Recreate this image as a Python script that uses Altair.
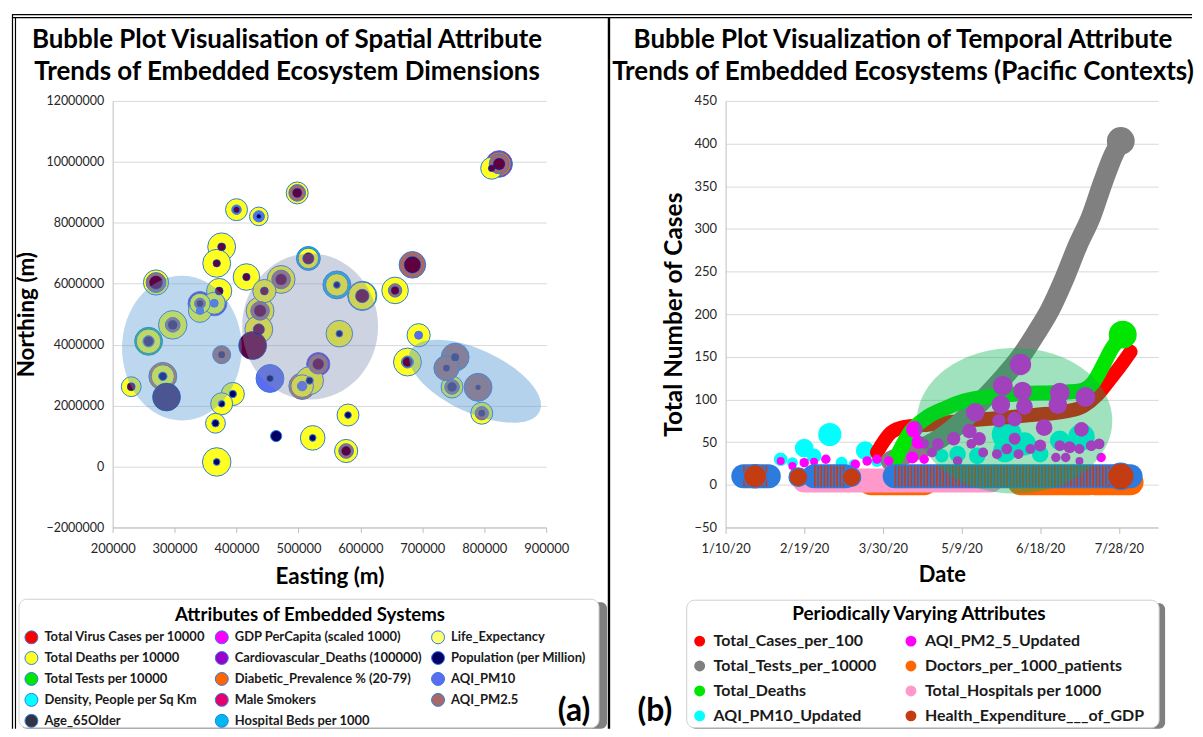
import altair as alt
import pandas as pd

FONT = "Lato"
STROKE_BLUE = "#2e7be0"

# ---------------- Panel (a): spatial attributes ----------------
SITE_E = [824000, 812000, 498000, 400000, 436000, 376000, 368000, 416000, 270000, 472000,
          516000, 562000, 603000, 656000, 684000, 372000, 445000, 341000, 364000, 341000,
          438000, 297000, 436000, 566000, 694000, 258000, 426000, 376000, 532000, 676000,
          753000, 739000, 281000, 454000, 518000, 506000, 748000, 790000, 230000, 287000,
          394000, 376000, 796000, 580000, 366000, 464000, 523000, 577000, 368000]
SITE_N = [9930000, 9790000, 8980000, 8430000, 8210000, 7210000, 6670000, 6220000, 6040000, 6140000,
          6830000, 5960000, 5600000, 5780000, 6620000, 5760000, 5760000, 5350000, 5360000, 5110000,
          5110000, 4650000, 4500000, 4360000, 4310000, 4110000, 3970000, 3670000, 3360000, 3430000,
          3590000, 3230000, 2960000, 2890000, 2820000, 2640000, 2610000, 2600000, 2620000, 2280000,
          2380000, 2060000, 1750000, 1690000, 1420000, 1000000, 940000, 510000, 150000]
# bubble magnitudes per attribute (0 = not drawn)
TOTAL_DEATHS = [0, 54, 54, 54, 39, 87, 87, 79, 71, 87, 47, 57, 87, 79, 0, 71, 60, 47, 54, 60,
                87, 91, 87, 79, 60, 68, 0, 0, 0, 87, 0, 0, 60, 0, 87, 57, 54, 0, 44, 0,
                60, 54, 54, 54, 44, 0, 68, 60, 91]
AQI_PM25 = [44, 0, 31, 0, 0, 0, 0, 0, 44, 39, 0, 0, 0, 20, 79, 0, 0, 13, 0, 0,
            39, 24, 0, 0, 0, 14, 0, 36, 44, 16, 87, 71, 0, 0, 0, 0, 24, 87, 0, 87,
            0, 0, 20, 0, 0, 0, 0, 24, 0]
VIRUS_CASES = [16, 5, 10, 4, 0, 7, 6, 6, 20, 14, 14, 0, 20, 7, 31, 7, 7, 0, 0, 0,
               16, 0, 14, 0, 0, 0, 87, 0, 14, 10, 0, 0, 0, 0, 0, 0, 0, 0, 7, 0,
               0, 0, 0, 0, 0, 0, 0, 10, 0]
POP_OVERLAY = [0, 0, 0, 0, 0, 0, 0, 0, 0, 0, 0, 0, 0, 0, 0, 0, 0, 5, 0, 0,
               0, 10, 0, 0, 0, 10, 0, 5, 0, 0, 7, 5, 0, 0, 0, 0, 10, 3, 0, 87,
               0, 0, 5, 0, 0, 0, 0, 0, 0]
POPULATION = [0, 0, 0, 0, 3, 0, 0, 0, 0, 0, 0, 5, 0, 0, 0, 0, 0, 0, 0, 0,
              0, 0, 0, 5, 0, 0, 0, 0, 0, 0, 0, 0, 8, 6, 6, 0, 0, 0, 0, 0,
              6, 5, 0, 5, 6, 14, 5, 0, 5]
AQI_PM10 = [0, 0, 0, 10, 14, 0, 0, 0, 0, 0, 0, 0, 0, 0, 0, 0, 0, 0, 7, 6,
            0, 0, 0, 0, 7, 0, 0, 0, 0, 0, 0, 0, 0, 87, 0, 10, 0, 0, 0, 0,
            0, 0, 0, 0, 0, 0, 0, 0, 0]
# outer rings (site index -> magnitude)
MALE_SMOKERS = {0: 79}
DIABETIC = {0: 64, 32: 87, 35: 79}
CARDIO = {17: 64, 18: 71, 28: 60}
HOSP_BEDS = {10: 64, 11: 87, 12: 95}
TOTAL_TESTS = {25: 87}

# legend order (filled column by column)
ATTRS_A = ["Total Virus Cases per 10000", "Total Deaths per 10000", "Total Tests per 10000",
           "Density, People per Sq Km", "Age_65Older",
           "GDP PerCapita (scaled 1000)", "Cardiovascular_Deaths (100000)",
           "Diabetic_Prevalence % (20-79)", "Male Smokers", "Hospital Beds per 1000",
           "Life_Expectancy", "Population (per Million)", "AQI_PM10", "AQI_PM2.5"]
COLORS_A = ["#ff0000", "#ffff22", "#00e600", "#00ffff", "#333344",
            "#ff00ff", "#9900cc", "#ff6600", "#e6006e", "#00b8f0",
            "#ffff70", "#000066", "#5b6cf0", "#a86868"]

# cluster ellipses (centre easting / northing)
CLUSTER_E = [311800, 518800, 784900]
CLUSTER_N = [3887000, 4595000, 2798000]

TITLE_A = ["Bubble Plot Visualisation of Spatial Attribute", "Trends of Embedded Ecosystem Dimensions"]
TITLE_B = ["Bubble Plot Visualization of Temporal Attribute", "Trends of Embedded Ecosystems (Pacific Contexts)"]


def site_rows(values, attr):
    return pd.DataFrame([{"E": SITE_E[i], "N": SITE_N[i], "v": v, "attr": attr}
                         for i, v in enumerate(values) if v > 0])


def sparse_rows(d, attr):
    return pd.DataFrame([{"E": SITE_E[i], "N": SITE_N[i], "v": v, "attr": attr} for i, v in d.items()])


accent_df = pd.concat([sparse_rows(MALE_SMOKERS, "Male Smokers"),
                       sparse_rows(DIABETIC, "Diabetic_Prevalence % (20-79)"),
                       sparse_rows(CARDIO, "Cardiovascular_Deaths (100000)"),
                       sparse_rows(HOSP_BEDS, "Hospital Beds per 1000"),
                       sparse_rows(TOTAL_TESTS, "Total Tests per 10000")], ignore_index=True)
overlay_vals = [max(a, b) for a, b in zip(VIRUS_CASES, POP_OVERLAY)]

xs_a = alt.Scale(domain=[200000, 900000], nice=False, zero=False)
ys_a = alt.Scale(domain=[-2000000, 12000000], nice=False, zero=False)
x_axis_a = alt.Axis(values=list(range(200000, 900001, 100000)), format="d", title="Easting (m)",
                    grid=False, domainColor="#bfbfbf", tickColor="#bfbfbf", tickSize=5,
                    labelFlush=False, labelFont=FONT, labelFontSize=13, labelColor="#262626",
                    labelPadding=10, titleFont=FONT, titleFontSize=22.5, titleFontWeight="bold",
                    titleColor="black", titlePadding=10)
y_axis_a = alt.Axis(values=list(range(-2000000, 12000001, 2000000)), format="d", title="Northing (m)",
                    grid=True, gridColor="#d9d9d9", domainColor="#bfbfbf", ticks=False,
                    labelFlush=False, labelFont=FONT, labelFontSize=12.5, labelColor="#262626",
                    labelPadding=9, titleFont=FONT, titleFontSize=22.5, titleFontWeight="bold",
                    titleColor="black", titlePadding=7)
size_a = alt.Scale(domain=[0, 100], range=[0, 900])
color_a = alt.Scale(domain=ATTRS_A, range=COLORS_A)
legend_a = alt.Legend(orient="none", legendX=-88.5, legendY=531, columns=3, title=None,
                      symbolType="circle", symbolSize=169, symbolStrokeColor=STROKE_BLUE,
                      symbolStrokeWidth=1, symbolOpacity=1, labelFont=FONT, labelFontSize=13,
                      labelFontWeight="bold", labelColor="#1a1a1a", labelOffset=6, rowPadding=3,
                      columnPadding=7, gridAlign="each", labelLimit=400)


def bubbles_a(df, opacity=1.0, stroke=True):
    kw = dict(opacity=opacity)
    if stroke:
        kw.update(stroke=STROKE_BLUE, strokeWidth=1)
    return alt.Chart(df).mark_circle(**kw).encode(
        x=alt.X("E:Q", scale=xs_a, axis=x_axis_a),
        y=alt.Y("N:Q", scale=ys_a, axis=y_axis_a),
        size=alt.Size("v:Q", scale=size_a, legend=None),
        color=alt.Color("attr:N", scale=color_a, legend=legend_a),
        order=alt.Order("v:Q", sort="descending"),
    )


one = pd.DataFrame({"k": [0]})


def rule(x, x2, y, y2, w=1.2):
    return alt.Chart(one).mark_rule(color="black", strokeWidth=w).encode(
        x=alt.value(x), x2=alt.value(x2), y=alt.value(y), y2=alt.value(y2))


def box(x, x2, y, y2, fill, stroke=None, r=8):
    kw = dict(fill=fill, cornerRadius=r)
    if stroke:
        kw.update(stroke=stroke, strokeWidth=1)
    return alt.Chart(one).mark_rect(**kw).encode(
        x=alt.value(x), x2=alt.value(x2), y=alt.value(y), y2=alt.value(y2))


def label(text, x, y, size):
    return alt.Chart(pd.DataFrame({"t": [text]})).mark_text(
        font=FONT, fontSize=size, fontWeight="bold", color="black", align="center",
        baseline="middle").encode(x=alt.value(x), y=alt.value(y), text="t:N")


def ellipse_path(rx, ry):
    return f"M {-rx} 0 A {rx} {ry} 0 1 0 {rx} 0 A {rx} {ry} 0 1 0 {-rx} 0 Z"


def cluster(i, color, opacity, rx, ry, size, angle=0):
    df = pd.DataFrame({"E": [CLUSTER_E[i]], "N": [CLUSTER_N[i]]})
    return alt.Chart(df).mark_point(shape=ellipse_path(rx, ry), filled=True, color=color,
                                    opacity=opacity, strokeWidth=0).encode(
        x=alt.X("E:Q", scale=xs_a), y=alt.Y("N:Q", scale=ys_a),
        size=alt.value(size), angle=alt.value(angle))


left = alt.layer(
    box(-92, 496, 503, 630, "#7f7f7f", r=6),
    box(-94, 488, 500, 629, "white", stroke="#d0d0d0"),
    bubbles_a(accent_df),
    bubbles_a(site_rows(TOTAL_DEATHS, "Total Deaths per 10000")),
    bubbles_a(site_rows(AQI_PM25, "AQI_PM2.5")),
    bubbles_a(site_rows(AQI_PM10, "AQI_PM10")),
    bubbles_a(site_rows(VIRUS_CASES, "Total Virus Cases per 10000")),
    bubbles_a(site_rows(overlay_vals, "Population (per Million)"), opacity=0.62, stroke=False),
    bubbles_a(site_rows(POPULATION, "Population (per Million)")),
    cluster(0, "#5b9bd5", 0.4, 0.826, 1, 145.4 ** 2),
    cluster(1, "#7f8cb0", 0.38, 0.93, 1, 146.6 ** 2),
    cluster(2, "#5b9bd5", 0.45, 1, 0.44, 143.2 ** 2, 25),
    label(TITLE_A[0], 175, -61, 26),
    label(TITLE_A[1], 175, -29, 26),
    label("Attributes of Embedded Systems", 198, 516, 18.7),
    label("(a)", 463, 612, 32),
    rule(-101, 1083, -86.5, -86.5),
    rule(-101, 1083, -83.5, -83.5),
    rule(-100.5, -100.5, -86.5, 630),
    rule(-97.5, -97.5, -83.5, 630),
    rule(498, 498, -83.5, 630, 2.4),
).properties(width=435, height=428)

# ---------------- Panel (b): temporal attributes ----------------
# legend order (filled column by column)
SERIES_B = ["Total_Cases_per_100", "Total_Tests_per_10000", "Total_Deaths", "AQI_PM10_Updated",
            "AQI_PM2_5_Updated", "Doctors_per_1000_patients", "Total_Hospitals per 1000",
            "Health_Expenditure___of_GDP"]
COLORS_B = ["#ff0000", "#808080", "#00e600", "#00ffff", "#ff00ff", "#ff6600", "#ff99cc", "#c43c12"]

PM10_DATES = ["2020-02-07", "2020-02-13", "2020-02-19", "2020-02-24", "2020-03-03", "2020-03-09",
              "2020-03-15", "2020-03-21", "2020-03-27", "2020-04-13", "2020-04-29", "2020-05-07",
              "2020-05-17", "2020-05-31", "2020-06-01", "2020-06-10", "2020-06-18", "2020-06-28",
              "2020-07-09"]
PM10_VALUES = [30, 26, 43, 34, 59, 26, 24, 40, 28, 38, 34, 36, 34, 40, 59, 48, 36, 52, 56]
PM10_SIZES = [20, 13, 39, 24, 60, 16, 10, 39, 16, 20, 20, 31, 31, 60, 100, 60, 31, 44, 79]

PM25_DATES = ["2020-02-07", "2020-02-13", "2020-02-19", "2020-02-24", "2020-03-01", "2020-03-07",
              "2020-03-16", "2020-03-22", "2020-03-27", "2020-04-02", "2020-04-15", "2020-04-17",
              "2020-04-14", "2020-04-20", "2020-06-08", "2020-05-30", "2020-06-09", "2020-05-29",
              "2020-06-10", "2020-05-16", "2020-06-28", "2020-06-27", "2020-07-11", "2020-06-20",
              "2020-07-09", "2020-06-05", "2020-05-28", "2020-05-13", "2020-05-18", "2020-05-05",
              "2020-06-05", "2020-04-27", "2020-04-20", "2020-04-24", "2020-05-14", "2020-05-20",
              "2020-05-27", "2020-06-01", "2020-06-07", "2020-06-13", "2020-06-18", "2020-06-28",
              "2020-07-03", "2020-07-08", "2020-07-14", "2020-07-18", "2020-06-26", "2020-07-01",
              "2020-07-08", "2020-07-19", "2020-05-07"]
PM25_VALUES = [28, 22, 26, 27, 30, 19, 24, 28, 30, 28, 65, 50, 32, 30, 141, 116, 110, 94, 92, 85,
               108, 94, 103, 67, 65, 77, 75, 63, 54, 54, 54, 48, 48, 38, 48, 38, 36, 42, 36, 42,
               46, 46, 44, 42, 46, 48, 32, 32, 28, 32, 28]
PM25_SIZES = [7, 7, 10, 7, 10, 5, 10, 10, 10, 10, 31, 20, 16, 10, 51, 44, 39, 39, 31, 39,
              44, 39, 44, 31, 24, 24, 20, 24, 20, 20, 16, 16, 11, 11, 11, 11, 11, 13, 11, 11,
              16, 13, 16, 11, 13, 13, 10, 10, 7, 10, 10]

CASES_DATES = ["2020-03-27", "2020-04-03", "2020-04-10", "2020-04-20", "2020-05-01", "2020-05-15",
               "2020-06-01", "2020-06-15", "2020-07-01", "2020-07-10", "2020-07-17", "2020-07-24",
               "2020-07-30", "2020-08-03"]
CASES_VALUES = [38, 61, 68, 70, 73, 76, 79, 82, 86, 92, 105, 125, 143, 156]

TESTS_DATES = ["2020-04-03", "2020-04-15", "2020-04-25", "2020-05-07", "2020-05-20", "2020-05-30",
               "2020-06-08", "2020-06-16", "2020-06-23", "2020-06-30", "2020-07-07", "2020-07-14",
               "2020-07-20", "2020-07-25", "2020-07-29"]
TESTS_VALUES = [28, 40, 50, 70, 100, 125, 150, 178, 205, 240, 280, 315, 355, 385, 403]

DEATHS_DATES = ["2020-04-05", "2020-04-13", "2020-04-22", "2020-05-01", "2020-05-10", "2020-05-25",
                "2020-06-10", "2020-06-25", "2020-07-08", "2020-07-15", "2020-07-20", "2020-07-24",
                "2020-07-30"]
DEATHS_VALUES = [28, 62, 80, 90, 98, 104, 107, 108, 110, 120, 140, 158, 176]

HEALTH_DATES = ["2020-01-19", "2020-02-01", "2020-02-24", "2020-03-11", "2020-04-05", "2020-08-03"]
HEALTH_VALUES = [10, 10, 10, 10, 10, 10]
HEALTH_RUN = ["a", "a", "b", "b", "c", "c"]
HEALTH_LINK_DATES = ["2020-02-16", "2020-03-14"]
HEALTH_LINK_VALUES = [9, 9]
HEALTH_BUBBLE_DATES = ["2020-01-25", "2020-02-16", "2020-03-14", "2020-07-29"]
HEALTH_BUBBLE_VALUES = [10, 9, 9, 10]
HEALTH_BUBBLE_SIZES = [60, 39, 39, 79]

DOCTORS_DATES = ["2020-03-24", "2020-04-20", "2020-06-08", "2020-07-13", "2020-07-16", "2020-08-03"]
DOCTORS_VALUES = [3, 3, 3, 3, 3, 3]
DOCTORS_RUN = ["a", "a", "b", "b", "c", "c"]

HOSPITALS_DATES = ["2020-02-19", "2020-05-24"]
HOSPITALS_VALUES = [5, 5]

END_DATES = {"Total_Tests_per_10000": "2020-07-29", "Total_Deaths": "2020-07-30"}
END_VALUES = {"Total_Tests_per_10000": 403, "Total_Deaths": 176}
END_SIZES = {"Total_Tests_per_10000": 87, "Total_Deaths": 87}

FOCUS_DATE = "2020-06-05"
FOCUS_VALUE = 75


def frame_b(dates, values, series, sizes=None, run=None):
    d = {"date": dates, "val": values, "series": [series] * len(dates)}
    if sizes is not None:
        d["v"] = sizes
    if run is not None:
        d["run"] = run
    return pd.DataFrame(d)


xs_b = alt.Scale(type="utc", domain=["2020-01-10", "2020-08-17"], nice=False)
ys_b = alt.Scale(domain=[-50, 450], nice=False, zero=False)
x_axis_b = alt.Axis(values=[alt.DateTime(year=2020, month=m, date=d, utc=True)
                            for m, d in [(1, 10), (2, 19), (3, 30), (5, 9), (6, 18), (7, 28)]],
                    labelExpr="utcFormat(datum.value, '%-m/%-d/%y')", title="Date", grid=False,
                    domainColor="#bfbfbf", tickColor="#bfbfbf", tickSize=6, labelFlush=False,
                    labelFont=FONT, labelFontSize=13, labelColor="#262626", labelPadding=9,
                    titleFont=FONT, titleFontSize=22, titleFontWeight="bold", titleColor="black",
                    titlePadding=9)
y_axis_b = alt.Axis(values=list(range(-50, 451, 50)), title="Total Number of Cases", grid=True,
                    gridColor="#d9d9d9", domainColor="#bfbfbf", ticks=False, labelFlush=False,
                    labelFont=FONT, labelFontSize=13, labelColor="#262626", labelPadding=9,
                    titleFont=FONT, titleFontSize=24.5, titleFontWeight="bold", titleColor="black",
                    titlePadding=8)
size_b = alt.Scale(domain=[0, 100], range=[0, 900])
color_b = alt.Scale(domain=SERIES_B, range=COLORS_B)
legend_b = alt.Legend(orient="none", legendX=-34, legendY=534, columns=2, title=None,
                      symbolType="circle", symbolSize=120, symbolStrokeWidth=0, symbolOpacity=1,
                      labelFont=FONT, labelFontSize=16, labelFontWeight="bold",
                      labelColor="#1a1a1a", labelOffset=6, rowPadding=9, columnPadding=26,
                      gridAlign="each", labelLimit=400)

X_B = alt.X("date:T", scale=xs_b, axis=x_axis_b)
Y_B = alt.Y("val:Q", scale=ys_b, axis=y_axis_b)
C_B = alt.Color("series:N", scale=color_b, legend=legend_b)


def bubbles_b(df, stroke=None):
    kw = dict(opacity=1)
    if stroke:
        kw.update(stroke=stroke, strokeWidth=1.2)
    return alt.Chart(df).mark_circle(**kw).encode(
        x=X_B, y=Y_B, color=C_B,
        size=alt.Size("v:Q", scale=size_b, legend=None),
        order=alt.Order("v:Q", sort="descending"))


def band(df, width, color=None, dash=None, detail=False, interp="monotone"):
    kw = dict(strokeWidth=width, strokeCap="round", strokeJoin="round", interpolate=interp)
    if dash:
        kw["strokeDash"] = dash
        kw["strokeCap"] = "butt"
    enc = dict(x=X_B, y=Y_B)
    if color:
        kw["color"] = color
    else:
        enc["color"] = C_B
    if detail:
        enc["detail"] = "run:N"
    return alt.Chart(df).mark_line(**kw).encode(**enc)


def end_bubble(series):
    return frame_b([END_DATES[series]], [END_VALUES[series]], series, [END_SIZES[series]])


health_runs = frame_b(HEALTH_DATES, HEALTH_VALUES, "Health_Expenditure___of_GDP", run=HEALTH_RUN)
health_link = frame_b(HEALTH_LINK_DATES, HEALTH_LINK_VALUES, "Health_Expenditure___of_GDP")
focus_df = pd.DataFrame({"date": [FOCUS_DATE], "val": [FOCUS_VALUE]})

right = alt.layer(
    bubbles_b(frame_b(PM10_DATES, PM10_VALUES, "AQI_PM10_Updated", PM10_SIZES)),
    box(-36, 441, 504, 630, "#7f7f7f", r=6),
    box(-39, 435, 501, 629, "white", stroke="#d0d0d0"),
    band(frame_b(DOCTORS_DATES, DOCTORS_VALUES, "Doctors_per_1000_patients", run=DOCTORS_RUN), 26,
         detail=True, interp="linear"),
    band(frame_b(HOSPITALS_DATES, HOSPITALS_VALUES, "Total_Hospitals per 1000"), 24, interp="linear"),
    band(frame_b(CASES_DATES, CASES_VALUES, "Total_Cases_per_100"), 14),
    band(frame_b(TESTS_DATES, TESTS_VALUES, "Total_Tests_per_10000"), 20),
    bubbles_b(end_bubble("Total_Tests_per_10000")),
    band(frame_b(DEATHS_DATES, DEATHS_VALUES, "Total_Deaths"), 15),
    bubbles_b(end_bubble("Total_Deaths")),
    bubbles_b(frame_b(PM25_DATES, PM25_VALUES, "AQI_PM2_5_Updated", PM25_SIZES)),
    band(health_link, 6, color=STROKE_BLUE, interp="linear"),
    band(health_link, 3.5, dash=[1.5, 1.5], interp="linear"),
    band(health_runs, 24, color=STROKE_BLUE, detail=True, interp="linear"),
    band(health_runs, 21, dash=[1.6, 1.6], detail=True, interp="linear"),
    bubbles_b(frame_b(HEALTH_BUBBLE_DATES, HEALTH_BUBBLE_VALUES, "Health_Expenditure___of_GDP",
                      HEALTH_BUBBLE_SIZES), stroke=STROKE_BLUE),
    alt.Chart(focus_df).mark_point(shape=ellipse_path(1, 0.745), filled=True, color="#00b050",
                                   opacity=0.37, strokeWidth=0).encode(
        x=alt.X("date:T", scale=xs_b), y=alt.Y("val:Q", scale=ys_b),
        size=alt.value(196 ** 2)),
    label(TITLE_B[0], 178, -61, 26),
    label(TITLE_B[1], 178, -29, 26),
    label("Periodically Varying Attributes", 194, 515, 19),
    label("(b)", -71, 612, 32),
).properties(width=434, height=428)

chart = alt.hconcat(left, right, spacing=180, bounds="flush").resolve_scale(
    color="independent", size="independent"
).properties(
    padding={"left": 3, "top": 4, "right": 0, "bottom": 0},
    background="white",
).configure_view(stroke=None)

chart.save("out.html", embed_options={"renderer": "svg", "actions": False})
